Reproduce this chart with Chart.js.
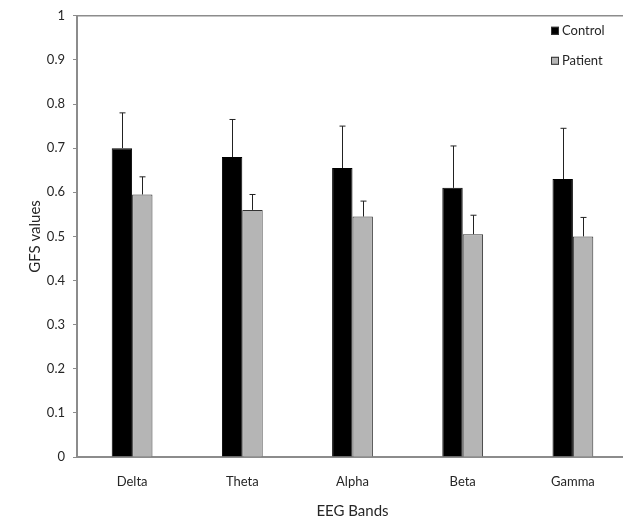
<!DOCTYPE html>
<html>
<head>
<meta charset="utf-8">
<script src="https://cdn.jsdelivr.net/npm/chart.js@4.4.1/dist/chart.umd.min.js"></script>
<style>
  html, body { margin: 0; padding: 0; background: #fff; overflow: hidden; }
  #wrap { width: 623px; height: 525px; overflow: hidden; }
  #box { width: 632px; height: 525px; }
</style>
</head>
<body>
<div id="wrap"><div id="box"><canvas id="chart"></canvas></div></div>
<script>
// GFS values per EEG band, control vs patient (mean + upper SD whisker)
const bands = ['Delta', 'Theta', 'Alpha', 'Beta', 'Gamma'];
const controlMeans = [0.70, 0.68, 0.655, 0.61, 0.63];
const controlErr = [0.08, 0.085, 0.095, 0.095, 0.115];
const patientMeans = [0.595, 0.56, 0.545, 0.505, 0.50];
const patientErr = [0.04, 0.035, 0.035, 0.043, 0.043];
const yTicks = [0, 0.1, 0.2, 0.3, 0.4, 0.5, 0.6, 0.7, 0.8, 0.9, 1];
const yTickLabels = ['0', '0.1', '0.2', '0.3', '0.4', '0.5', '0.6', '0.7', '0.8', '0.9', '1'];

const fontFamily = 'Lato, "Liberation Sans", sans-serif';
const textColor = '#262626';

// draws upper whiskers with a small cap on top of each bar
const errorBars = {
  id: 'errorBars',
  afterDatasetsDraw(chart) {
    const ctx = chart.ctx;
    const yScale = chart.scales.y;
    ctx.save();
    ctx.strokeStyle = '#222';
    ctx.lineWidth = 1;
    chart.data.datasets.forEach((ds, i) => {
      const meta = chart.getDatasetMeta(i);
      meta.data.forEach((bar, j) => {
        const top = yScale.getPixelForValue(ds.data[j] + ds.errors[j]);
        const x = Math.round(bar.x) + 0.5;
        ctx.beginPath();
        ctx.moveTo(x, bar.y);
        ctx.lineTo(x, top);
        ctx.moveTo(x - 3, top);
        ctx.lineTo(x + 3, top);
        ctx.stroke();
      });
    });
    ctx.restore();
  }
};

// top frame line + legend in the upper right of the plot
const frameAndLegend = {
  id: 'frameAndLegend',
  afterDraw(chart) {
    const ctx = chart.ctx;
    const a = chart.chartArea;
    ctx.save();
    ctx.strokeStyle = '#8c8c8c';
    ctx.lineWidth = 1.5;
    ctx.beginPath();
    ctx.moveTo(a.left - 1, a.top);
    ctx.lineTo(a.right, a.top);
    ctx.stroke();

    ctx.font = '13px ' + fontFamily;
    ctx.textBaseline = 'middle';
    chart.data.datasets.forEach((ds, i) => {
      const bx = a.right - 77;
      const by = a.top + 15 + i * 30;
      ctx.fillStyle = ds.backgroundColor;
      ctx.fillRect(bx, by - 4, 8, 8);
      ctx.strokeStyle = '#333';
      ctx.lineWidth = 1;
      ctx.strokeRect(bx + 0.5, by - 3.5, 7, 7);
      ctx.fillStyle = textColor;
      ctx.fillText(ds.label, bx + 11, by);
    });
    ctx.restore();
  }
};

new Chart(document.getElementById('chart'), {
  type: 'bar',
  data: {
    labels: bands,
    datasets: [
      {
        label: 'Control',
        data: controlMeans,
        errors: controlErr,
        backgroundColor: '#000000',
        borderColor: '#000000',
        borderWidth: 1,
        barPercentage: 1,
        categoryPercentage: 0.37
      },
      {
        label: 'Patient',
        data: patientMeans,
        errors: patientErr,
        backgroundColor: '#b5b5b5',
        borderColor: '#333333',
        borderWidth: 1,
        barPercentage: 1,
        categoryPercentage: 0.37
      }
    ]
  },
  options: {
    responsive: true,
    maintainAspectRatio: false,
    animation: false,
    layout: { padding: { top: 13, right: 4, left: 0, bottom: 0 } },
    plugins: {
      legend: { display: false },
      tooltip: { enabled: false }
    },
    scales: {
      x: {
        grid: { display: false, drawTicks: false },
        border: { color: '#8c8c8c', width: 2 },
        ticks: {
          color: textColor,
          padding: 17,
          font: { family: fontFamily, size: 13 }
        },
        title: {
          display: true,
          text: 'EEG Bands',
          color: textColor,
          padding: { top: 4, bottom: 5 },
          font: { family: fontFamily, size: 15 }
        },
        afterFit(scale) { scale.height = 68; }
      },
      y: {
        min: 0,
        max: 1,
        afterBuildTicks(scale) {
          scale.ticks = yTicks.map(v => ({ value: v }));
        },
        grid: {
          drawOnChartArea: false,
          drawTicks: true,
          tickLength: 4,
          color: '#8c8c8c'
        },
        border: { color: '#8c8c8c', width: 2 },
        ticks: {
          color: textColor,
          padding: 8,
          font: { family: fontFamily, size: 13 },
          callback: (v, i) => yTickLabels[i]
        },
        title: {
          display: true,
          text: 'GFS values',
          color: textColor,
          padding: { top: 26, bottom: 0 },
          font: { family: fontFamily, size: 15 }
        },
        afterFit(scale) { scale.width = 77; }
      }
    }
  },
  plugins: [errorBars, frameAndLegend]
});
</script>
</body>
</html>
